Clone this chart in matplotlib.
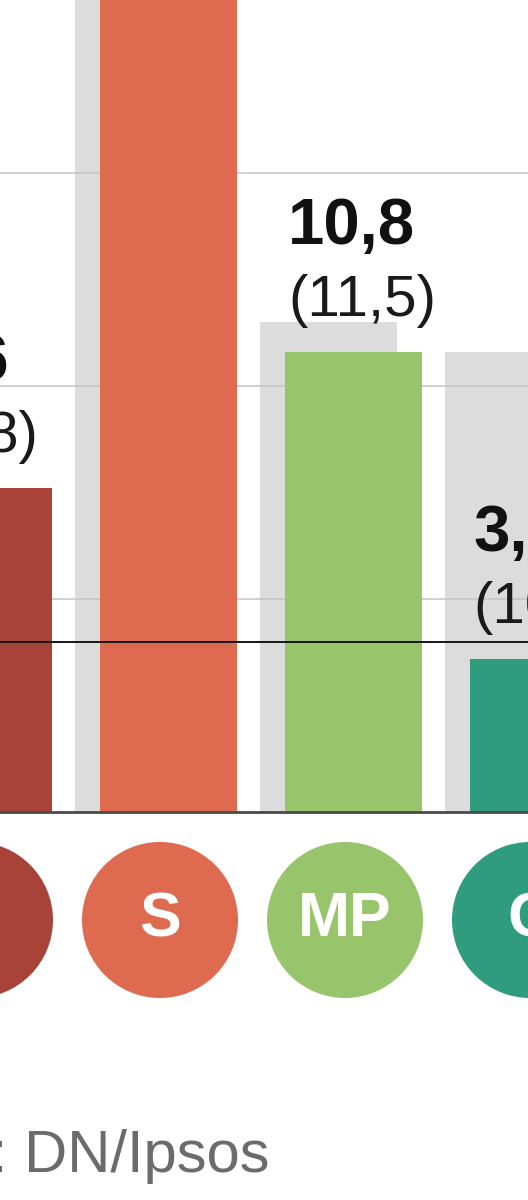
import matplotlib.pyplot as plt
import numpy as np

# %% data
parties = ["V", "S", "MP", "C"]
values = [7.6, 34.6, 10.8, 3.6]
previous = [6.8, 33.5, 11.5, 10.8]
colors = ["#A8433A", "#DE6A50", "#98C46B", "#2F9C80"]
grid_levels = [5, 10, 15]
threshold = 4
source = "Källa: DN/Ipsos"


def fmt(v):
    return f"{v:.1f}".replace(".", ",")


def plot_poll():
    plt.rcParams["font.family"] = ["Liberation Sans", "DejaVu Sans"]
    fig = plt.figure(figsize=(5.28, 12), dpi=100)
    ax = fig.add_axes([0, 0, 1, 1])
    ax.axis("off")

    # 185 px per category, 42.6 px per percentage point
    px_x = 185.0
    px_y = 42.6
    w = 137 / px_x
    grey_off = -25 / px_x
    x = np.arange(len(parties))

    ax.bar(x + grey_off, previous, width=w, color="#DCDCDC", zorder=1)
    for g in grid_levels:
        ax.axhline(g, color="#C4C4C4", lw=1.1, zorder=2)
    ax.bar(x, values, width=w, color=colors, zorder=3)
    ax.axhline(threshold, color="#151515", lw=1.4, zorder=4)
    ax.axhline(0, color="#4A4A4A", lw=2.0, zorder=4)

    for xi, v, p in zip(x, values, previous):
        left = xi - w / 2
        ax.annotate(f"({fmt(p)})", (left, v), xytext=(3, 36),
                    textcoords="offset pixels", va="baseline", ha="left",
                    fontsize=42, color="#1a1a1a", zorder=5,
                    annotation_clip=False)
        ax.annotate(fmt(v), (left, v), xytext=(3, 108),
                    textcoords="offset pixels", va="baseline", ha="left",
                    fontsize=47, fontweight="bold", color="#111111", zorder=5,
                    annotation_clip=False)

    # party circles
    cy = -108 / px_y
    cx = x - 8.5 / px_x
    ax.scatter(cx, np.full(len(x), cy), s=(156 * 0.72) ** 2, c=colors,
               linewidths=0, zorder=3, clip_on=False)
    for xi, name in zip(cx, parties):
        ax.text(xi, cy, name, ha="center", va="center", fontsize=45,
                fontweight="bold", color="white", zorder=5)

    ax.set_xlim(1 - 168.5 / px_x, 1 + (528 - 168.5) / px_x)
    ax.set_ylim(-388 / px_y, 812 / px_y)

    fig.text(270 / 528, 28 / 1200, source, ha="right", va="baseline",
             fontsize=43, color="#6B6B6B")

    plt.savefig("out.png", dpi=100)


plot_poll()
